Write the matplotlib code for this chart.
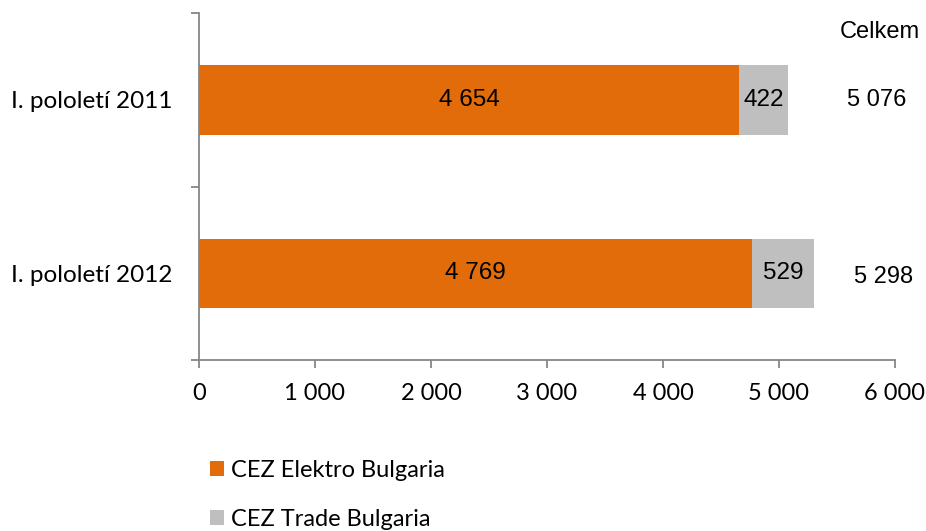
import matplotlib
matplotlib.use("Agg")
import matplotlib.pyplot as plt
from matplotlib.ticker import FuncFormatter, FixedLocator

# ===== data =====
categories = ["I. pololetí 2011", "I. pololetí 2012"]
elektro = [4654, 4769]      # CEZ Elektro Bulgaria
trade = [422, 529]          # CEZ Trade Bulgaria
totals = [5076, 5298]       # Celkem
series_names = ["CEZ Elektro Bulgaria", "CEZ Trade Bulgaria"]
x_ticks = [0, 1000, 2000, 3000, 4000, 5000, 6000]

# ===== style =====
ORANGE = "#E36C0A"
GREY = "#BFBFBF"
AXIS = "#868686"
CAL = "Lato"               # stand-in for Calibri
ARIAL = "Liberation Sans"

fig = plt.figure(figsize=(9.26, 5.31), dpi=100)
ax = fig.add_axes([199 / 926, 1 - 360 / 531, 696 / 926, 346.7 / 531])

ypos = list(range(len(categories)))
ax.barh(ypos, elektro, height=0.4, color=ORANGE, label=series_names[0])
ax.barh(ypos, trade, left=elektro, height=0.4, color=GREY, label=series_names[1])

# values inside bars
for y, e, t in zip(ypos, elektro, trade):
    ax.text(e / 2, y, f"{e:,}".replace(",", " "), ha="center", va="center",
            fontsize=17.5, family=ARIAL, color="black")
    ax.text(e + t / 2, y, f"{t:,}".replace(",", " "), ha="center", va="center",
            fontsize=17.5, family=ARIAL, color="black")

# totals column on the right
total_x = [5845, 5905]
total_dy = [0.0, 0.02]
for y, tot, tx, dy in zip(ypos, totals, total_x, total_dy):
    ax.text(tx, y + dy, f"{tot:,}".replace(",", " "), ha="center", va="center",
            fontsize=17, family=ARIAL, color="black")
ax.text(5870, -0.39, "Celkem", ha="center", va="center",
        fontsize=17, family=ARIAL, color="black")

ax.set_xlim(0, 6000)
ax.set_ylim(1.5, -0.5)

ax.xaxis.set_major_locator(FixedLocator(x_ticks))
ax.xaxis.set_major_formatter(FuncFormatter(lambda v, p: f"{int(v):,}".replace(",", " ")))
ax.tick_params(axis="x", direction="out", length=5.5, width=1.3, color=AXIS,
               pad=11, labelsize=17)

# category separators as major ticks, names as minor ticks
ax.yaxis.set_major_locator(FixedLocator([-0.5, 0.5, 1.5]))
ax.yaxis.set_major_formatter(FuncFormatter(lambda v, p: ""))
ax.yaxis.set_minor_locator(FixedLocator(ypos))
ax.set_yticklabels(categories, minor=True)
ax.tick_params(axis="y", which="major", direction="out", length=6, width=1.3, color=AXIS)
ax.tick_params(axis="y", which="minor", length=0, pad=19, labelsize=17.5)

for lab in ax.get_xticklabels() + ax.get_yticklabels(minor=True):
    lab.set_family(CAL)

for side in ["top", "right"]:
    ax.spines[side].set_visible(False)
for side in ["left", "bottom"]:
    ax.spines[side].set_color(AXIS)
    ax.spines[side].set_linewidth(1.3)

fig.legend(loc="center left", bbox_to_anchor=(210 / 926, 1 - 495 / 531),
           frameon=False, prop={"family": CAL, "size": 17},
           handlelength=0.6, handleheight=0.6, handletextpad=0.3,
           labelspacing=1.2, borderpad=0, borderaxespad=0)

fig.savefig("out.png", dpi=100)
